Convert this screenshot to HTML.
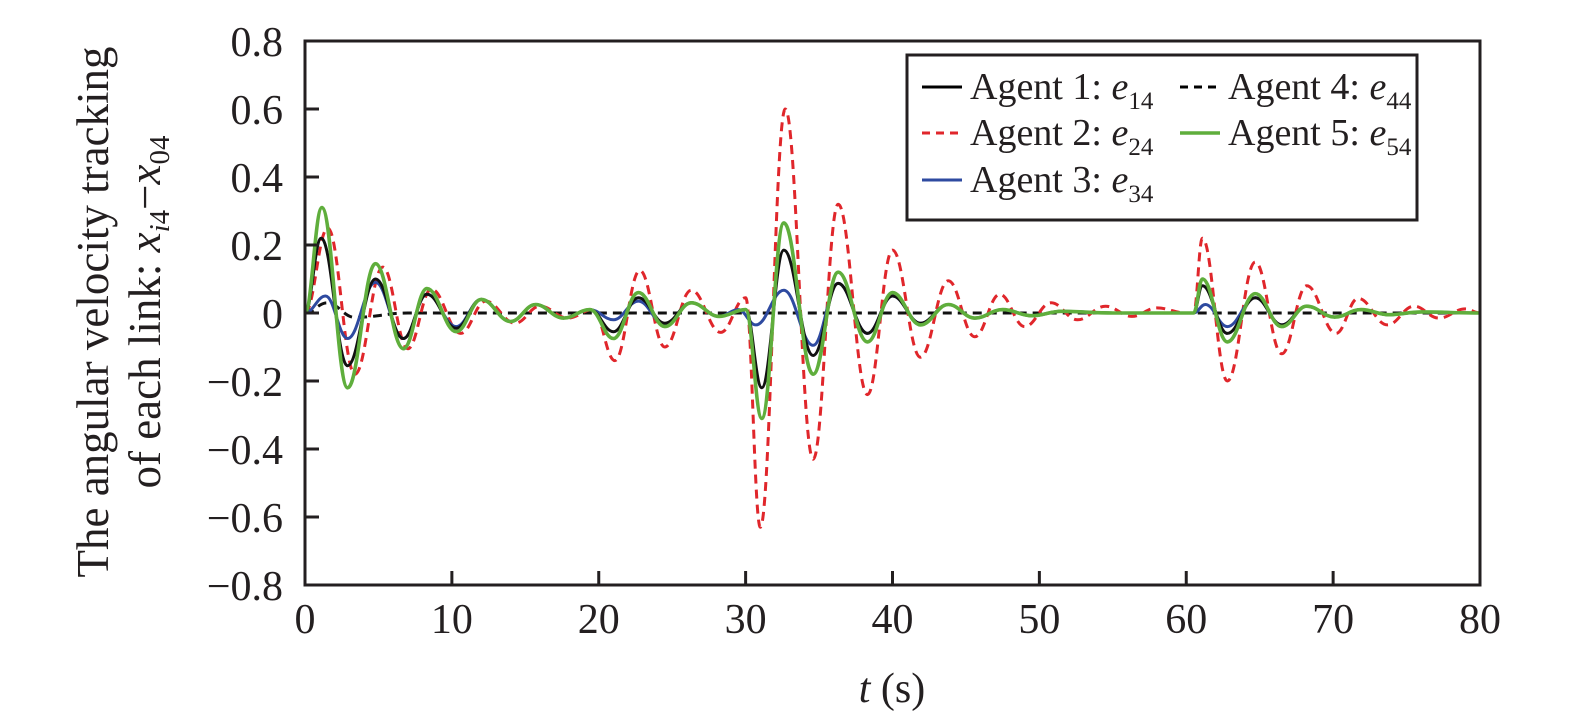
<!DOCTYPE html>
<html><head><meta charset="utf-8"><style>
html,body{margin:0;padding:0;background:#fff}
svg{display:block;font-family:"Liberation Serif",serif}
</style></head><body>
<svg id="chart" width="1575" height="720" viewBox="0 0 1575 720">
<g id="plot"></g>
<g id="axes"></g>
<g font-size="45" fill="#231f20">
<text transform="translate(108,312) rotate(-90)" text-anchor="middle">The angular velocity tracking</text>
<text transform="translate(160,312) rotate(-90)" text-anchor="middle">of each link: <tspan font-style="italic">x</tspan><tspan font-size="29" dy="9"><tspan font-style="italic">i</tspan>4</tspan><tspan dy="-9">−</tspan><tspan font-style="italic">x</tspan><tspan font-size="29" dy="9">04</tspan></text>
</g>
<text x="892" y="702" font-size="42" text-anchor="middle" fill="#231f20"><tspan font-style="italic">t</tspan> (s)</text>
<g>
<rect x="907" y="55" width="510" height="165" fill="#fff" stroke="#231f20" stroke-width="3"/>
<g><line x1="922" y1="87" x2="962" y2="87" stroke="#000" stroke-width="3"/><text x="970" y="99" font-size="38" fill="#231f20">Agent 1: <tspan font-style="italic">e</tspan><tspan font-size="25" dy="10">14</tspan></text></g>
<g><line x1="922" y1="133" x2="962" y2="133" stroke="#e0262b" stroke-width="3" stroke-dasharray="8,6"/><text x="970" y="145" font-size="38" fill="#231f20">Agent 2: <tspan font-style="italic">e</tspan><tspan font-size="25" dy="10">24</tspan></text></g>
<g><line x1="922" y1="180" x2="962" y2="180" stroke="#2e4aa0" stroke-width="3"/><text x="970" y="192" font-size="38" fill="#231f20">Agent 3: <tspan font-style="italic">e</tspan><tspan font-size="25" dy="10">34</tspan></text></g>
<g><line x1="1180" y1="87" x2="1220" y2="87" stroke="#000" stroke-width="3" stroke-dasharray="8,6"/><text x="1228" y="99" font-size="38" fill="#231f20">Agent 4: <tspan font-style="italic">e</tspan><tspan font-size="25" dy="10">44</tspan></text></g>
<g><line x1="1180" y1="133" x2="1220" y2="133" stroke="#5fae3c" stroke-width="3.5"/><text x="1228" y="145" font-size="38" fill="#231f20">Agent 5: <tspan font-style="italic">e</tspan><tspan font-size="25" dy="10">54</tspan></text></g>
</g>
</svg>
<script>
const xTicks=[0,10,20,30,40,50,60,70,80];
const yTicks=[0.8,0.6,0.4,0.2,0,-0.2,-0.4,-0.6,-0.8];
const yTickLabels=["0.8","0.6","0.4","0.2","0","−0.2","−0.4","−0.6","−0.8"];
const t1=[0,1.1,2.9,4.8,6.7,8.3,10.3,12,14,15.7,17.6,19.4,21,22.7,24.5,26.3,28.2,30,31.1,32.6,34.6,36.3,38.3,40,41.9,43.8,45.6,47.5,49.5,51.5,55,60.5,61.1,62.8,64.7,66.5,68.2,70.1,71.9,73.8,76,80];
const e14=[0,0.22,-0.155,0.1,-0.075,0.055,-0.045,0.04,-0.025,0.025,-0.015,0.01,-0.055,0.045,-0.03,0.03,-0.01,0.01,-0.22,0.185,-0.125,0.087,-0.06,0.05,-0.03,0.025,-0.015,0.01,-0.008,0.005,0,0,0.08,-0.06,0.045,-0.035,0.02,-0.012,0.01,-0.005,0.003,0];
const t5=[0,1.15,2.9,4.8,6.7,8.3,10.3,12,14,15.7,17.6,19.4,21,22.7,24.5,26.3,28.2,30,31.1,32.6,34.6,36.3,38.3,40,41.9,43.8,45.6,47.5,49.5,51.5,55,60.5,61.1,62.8,64.7,66.5,68.2,70.1,71.9,73.8,76,80];
const e54=[0,0.31,-0.22,0.145,-0.105,0.072,-0.055,0.04,-0.025,0.025,-0.015,0.01,-0.075,0.06,-0.04,0.03,-0.01,0.01,-0.31,0.265,-0.18,0.12,-0.085,0.06,-0.035,0.025,-0.015,0.01,-0.008,0.005,0,0,0.1,-0.085,0.057,-0.04,0.02,-0.012,0.01,-0.005,0.003,0];
const t3=[0,1.4,2.9,4.8,6.7,8.3,10.3,12,14,15.7,17.6,19.4,21,22.7,24.5,26.3,28.2,29.5,30.7,32.6,34.6,36.3,38.3,40,41.9,43.8,45.6,47.5,49.5,51.5,55,60.5,61.3,62.8,64.7,66.5,68.2,70.1,71.9,73.8,76,80];
const e34=[0,0.05,-0.075,0.09,-0.075,0.055,-0.04,0.04,-0.025,0.025,-0.015,0.01,-0.02,0.035,-0.035,0.03,-0.01,0.01,-0.035,0.067,-0.095,0.087,-0.06,0.05,-0.03,0.025,-0.015,0.01,-0.008,0.005,0,0,0.025,-0.04,0.045,-0.035,0.02,-0.012,0.01,-0.005,0.003,0];
const t2=[0,1.55,3.4,5.3,7.0,8.6,10.6,12.3,14.3,16,17.9,19.6,21.1,22.8,24.5,26.3,28.3,30,31.0,32.7,34.6,36.3,38.3,40,41.9,43.8,45.6,47.3,49,50.8,52.6,54.5,56.3,58,60,60.5,61.1,62.8,64.7,66.5,68.2,70.2,71.7,73.7,75.5,77.2,79,80];
const e24=[0,0.25,-0.18,0.135,-0.105,0.07,-0.06,0.035,-0.03,0.02,-0.015,0.01,-0.14,0.125,-0.1,0.067,-0.057,0.045,-0.63,0.6,-0.43,0.32,-0.24,0.185,-0.13,0.095,-0.07,0.055,-0.04,0.03,-0.02,0.02,-0.01,0.015,0,0,0.22,-0.2,0.15,-0.12,0.08,-0.06,0.043,-0.035,0.02,-0.015,0.012,0];
const t4=[0,1.5,3.4,7,80];
const e44=[0,0.03,-0.013,0,0];

const X0=305,X1=1480,Y0=585,Y1=41;
function xs(t){return X0+(t-0)/(80-0)*(X1-X0);}
function ys(v){return Y0-(v+0.8)/1.6*(Y0-Y1);}
const NS="http://www.w3.org/2000/svg";
const plot=document.getElementById('plot'), axes=document.getElementById('axes');
function pathFor(ts,vs){
  let d="M"+xs(ts[0]).toFixed(2)+","+ys(vs[0]).toFixed(2);
  for(let i=0;i<ts.length-1;i++){
    const xa=xs(ts[i]),xb=xs(ts[i+1]),ya=ys(vs[i]),yb=ys(vs[i+1]);
    const dx=(xb-xa)*0.4;
    d+=" C"+(xa+dx).toFixed(2)+","+ya.toFixed(2)+" "+(xb-dx).toFixed(2)+","+yb.toFixed(2)+" "+xb.toFixed(2)+","+yb.toFixed(2);
  }
  return d;
}
function series(ts,vs,color,w,dash,name){
  const p=document.createElementNS(NS,'path');
  p.setAttribute('d',pathFor(ts,vs));
  p.setAttribute('fill','none');p.setAttribute('stroke',color);p.setAttribute('stroke-width',w);
  if(dash)p.setAttribute('stroke-dasharray',dash);
  
  
  plot.appendChild(p);
}
series(t4,e44,'#111',3,'9,6','line-agent-4');
series(t2,e24,'#e0262b',3,'9,6','line-agent-2');
series(t3,e34,'#2e4aa0',3,null,'line-agent-3');
series(t1,e14,'#111',3,null,'line-agent-1');
series(t5,e54,'#5fae3c',3.6,null,'line-agent-5');

const frame=document.createElementNS(NS,'rect');
frame.setAttribute('x',X0);frame.setAttribute('y',Y1);frame.setAttribute('width',X1-X0);frame.setAttribute('height',Y0-Y1);
frame.setAttribute('fill','none');frame.setAttribute('stroke','#231f20');frame.setAttribute('stroke-width','3');


axes.appendChild(frame);
yTicks.forEach((v,i)=>{
  const l=document.createElementNS(NS,'line');
  l.setAttribute('x1',X0);l.setAttribute('x2',X0+14);l.setAttribute('y1',ys(v));l.setAttribute('y2',ys(v));
  l.setAttribute('stroke','#231f20');l.setAttribute('stroke-width','3');
  
  
  axes.appendChild(l);
  const tx=document.createElementNS(NS,'text');
  tx.setAttribute('x',X0-22);tx.setAttribute('y',ys(v)+15);tx.setAttribute('text-anchor','end');
  tx.setAttribute('font-size','42');tx.setAttribute('fill','#231f20');
  tx.textContent=yTickLabels[i];
  
  
  axes.appendChild(tx);
});
xTicks.forEach(t=>{
  const l=document.createElementNS(NS,'line');
  l.setAttribute('x1',xs(t));l.setAttribute('x2',xs(t));l.setAttribute('y1',Y0);l.setAttribute('y2',Y0-14);
  l.setAttribute('stroke','#231f20');l.setAttribute('stroke-width','3');
  
  
  axes.appendChild(l);
  const tx=document.createElementNS(NS,'text');
  tx.setAttribute('x',xs(t));tx.setAttribute('y',Y0+48);tx.setAttribute('text-anchor','middle');
  tx.setAttribute('font-size','42');tx.setAttribute('fill','#231f20');
  tx.textContent=String(t);
  
  
  axes.appendChild(tx);
});
</script>
</body></html>
